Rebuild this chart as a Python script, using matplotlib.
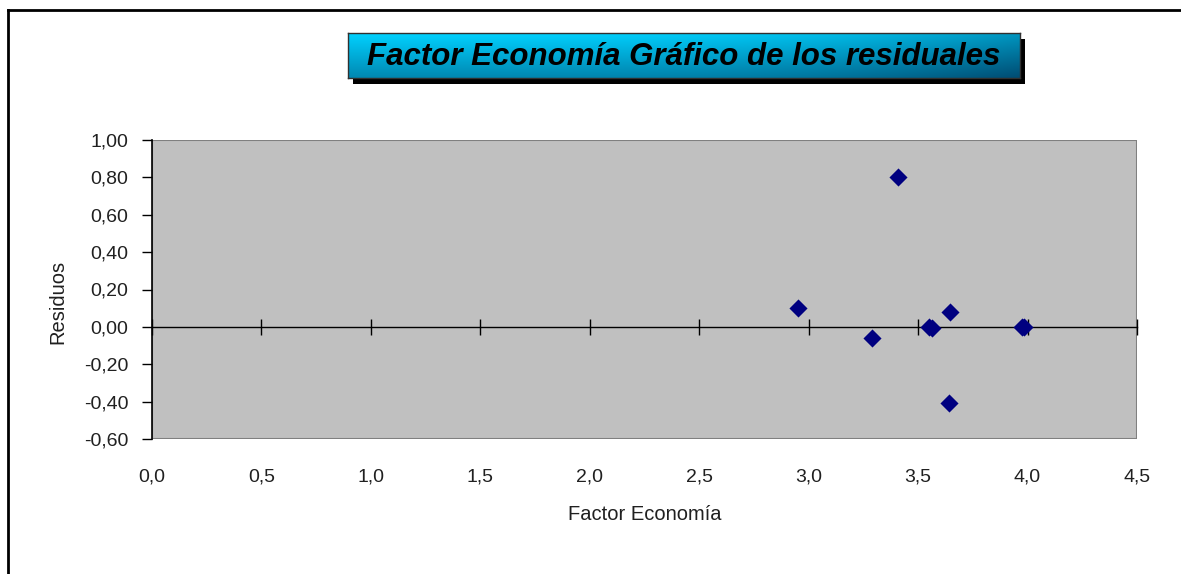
import numpy as np
import matplotlib.pyplot as plt
from matplotlib.patches import Rectangle
from matplotlib.lines import Line2D

# datos
factor = [2.95, 3.29, 3.41, 3.55, 3.565, 3.645, 3.64, 3.975, 3.985]
residuos = [0.10, -0.06, 0.80, 0.00, -0.005, 0.08, -0.41, 0.00, 0.00]
xticks = [0.0, 0.5, 1.0, 1.5, 2.0, 2.5, 3.0, 3.5, 4.0, 4.5]
yticks = [-0.6, -0.4, -0.2, 0.0, 0.2, 0.4, 0.6, 0.8, 1.0]

plt.rcParams['font.family'] = ['Liberation Sans', 'DejaVu Sans']

W, H = 1181, 574
fig = plt.figure(figsize=(W/100, H/100), dpi=100)
fig.patch.set_facecolor('white')

# marco de la figura (solo arriba e izquierda visibles)
fig.add_artist(Line2D([8/W, 8/W], [0, 1-10/H], color='black', lw=2, transform=fig.transFigure))
fig.add_artist(Line2D([8/W, 1], [1-10/H, 1-10/H], color='black', lw=2, transform=fig.transFigure))

ax = fig.add_axes([152/W, 1-439/H, (1137-152)/W, (439-140)/H])
ax.set_facecolor('#C0C0C0')
ax.set_xlim(0, 4.5)
ax.set_ylim(-0.6, 1.0)

for s in ['top', 'right']:
    ax.spines[s].set_visible(False)
ax.add_patch(Rectangle((0, 0), 1, 1, transform=ax.transAxes, fill=False,
                       edgecolor='#808080', lw=1.5, zorder=1))
ax.spines['left'].set_color('black')
ax.spines['left'].set_linewidth(1.2)
ax.spines['left'].set_zorder(3)
ax.spines['bottom'].set_position(('data', 0))
ax.spines['bottom'].set_linewidth(1.0)

ax.set_xticks(xticks)
ax.tick_params(axis='x', direction='inout', length=12, width=1, labelbottom=False)
ax.set_yticks(yticks)
ax.yaxis.set_major_formatter(plt.FuncFormatter(lambda v, p: ('%.2f' % v).replace('.', ',').replace('-0,00', '0,00')))
ax.tick_params(axis='y', direction='out', length=7, width=1, labelsize=14, colors='black', pad=10)
for t in ax.get_yticklabels():
    t.set_color('#202020')

sec = ax.secondary_xaxis(0)
sec.set_xticks(xticks)
sec.xaxis.set_major_formatter(plt.FuncFormatter(lambda v, p: ('%.1f' % v).replace('.', ',')))
sec.tick_params(length=0, pad=21, labelsize=14, labelcolor='#202020')
sec.spines['bottom'].set_visible(False)

ax.scatter(factor, residuos, marker='D', s=85, color='#000080', zorder=4, linewidths=0)

ax.text(0.5, -0.253, 'Factor Economía', transform=ax.transAxes, ha='center', va='center',
        fontsize=14.5, color='#202020')
ax.text(-0.0955, 0.46, 'Residuos', transform=ax.transAxes, ha='center', va='center',
        rotation=90, fontsize=14.5, color='#202020')

# caja del titulo con sombra y degradado
x0, y0, x1, y1 = 348, 33, 1020, 78
fig.add_artist(Rectangle((x0/W + 5/W, 1-(y1+6)/H), (x1-x0)/W, (y1-y0)/H, transform=fig.transFigure,
                         facecolor='black', edgecolor='none', zorder=5))
tax = fig.add_axes([x0/W, 1-y1/H, (x1-x0)/W, (y1-y0)/H], zorder=6)
gx = np.linspace(0, 1, 200)
gy = np.linspace(0, 1, 50)
GX, GY = np.meshgrid(gx, gy)
t = np.clip(0.55*GY + 0.45*GX**3, 0, 1)
c0 = np.array([0.0, 0.82, 1.0])
c1 = np.array([0.0, 0.30, 0.45])
img = c0[None, None, :]*(1-t[..., None]) + c1[None, None, :]*t[..., None]
tax.imshow(img, aspect='auto', extent=[0, 1, 0, 1], origin='upper')
tax.set_xlim(0, 1)
tax.set_ylim(0, 1)
tax.set_xticks([])
tax.set_yticks([])
for s in tax.spines.values():
    s.set_color('#303030')
    s.set_linewidth(1)
tax.text(0.5, 0.47, 'Factor Economía Gráfico de los residuales', ha='center', va='center',
         fontsize=22.5, fontweight='bold', fontstyle='italic', color='black')

fig.savefig('out.png', dpi=100)
